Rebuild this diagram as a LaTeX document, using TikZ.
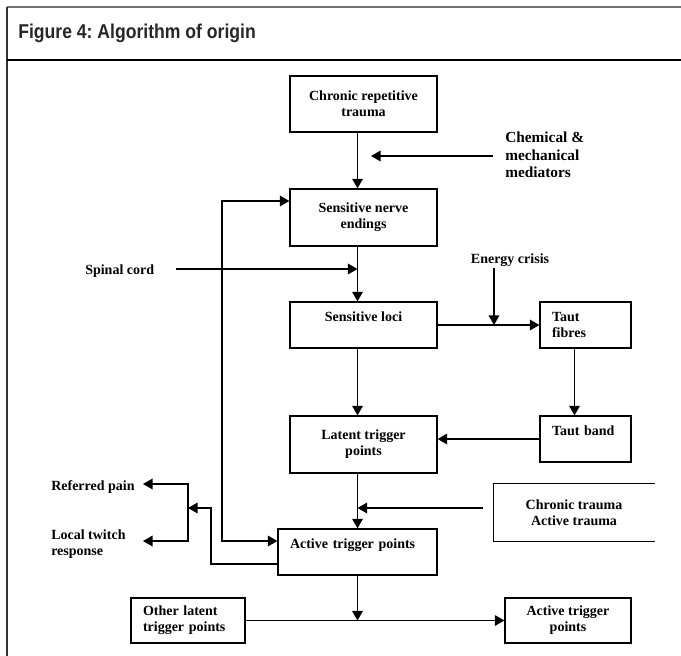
\documentclass[tikz,border=0pt]{standalone}
\usepackage{fontspec}
\setmainfont{Liberation Serif}
\newfontfamily\headfont[FakeStretch=0.88]{Liberation Sans}
\usetikzlibrary{arrows.meta,calc}
\frenchspacing
\tikzset{
  box/.style={draw, line width=0.9pt, inner sep=0pt, align=center, font=\bfseries\fontsize{10.5}{12}\selectfont},
  lbl/.style={inner sep=0pt, align=left, font=\bfseries\fontsize{10.5}{12}\selectfont},
  arr/.style={line width=1pt, -{Triangle[length=7.2pt,width=8pt]}},
  dblarr/.style={line width=1pt, {Triangle[length=7.2pt,width=8pt]}-{Triangle[length=7.2pt,width=8pt]}},
}
\begin{document}
\begin{tikzpicture}[x=0.75pt,y=-0.75pt]
\useasboundingbox (0,0) rectangle (681,656);
% frame and heading
\draw[line width=1.4pt, black!55] (681,7) -- (7,7);
\draw[line width=1.2pt, black!80] (7,7) -- (7,656);
\draw[line width=1.3pt] (7,60) -- (681,60);
\node[anchor=base west, inner sep=0pt, text=black!85, font=\headfont\bfseries\fontsize{15}{18}\selectfont] (title) at (18,39) {Figure 4: Algorithm of origin};
% boxes
\node[box, minimum width=110.25pt, minimum height=42pt] (crt) at (363.5,104) {Chronic repetitive\\trauma};
\node[box, minimum width=110.25pt, minimum height=42.75pt] (sne) at (363.5,217.5) {Sensitive nerve\\endings};
\node[box, minimum width=110.25pt, minimum height=34.5pt] (sl) at (363.5,325) {Sensitive loci\\~};
\node[box, minimum width=68.25pt, minimum height=34.5pt, text width=50.25pt, align=left] (tf) at (585.5,325) {Taut\\fibres};
\node[box, minimum width=110.25pt, minimum height=42.75pt] (ltp) at (363.5,444.5) {Latent trigger\\points};
\node[box, minimum width=68.25pt, minimum height=34.5pt, text width=50.25pt, align=left] (tb) at (585.5,439) {Taut band\\~};
\node[box, minimum width=119.25pt, minimum height=34.5pt, text width=101.25pt, align=left] (atp) at (357.5,552) {Active trigger points\\~};
\node[box, draw=none, minimum width=120pt, minimum height=42.75pt] (ct) at (574,512.5) {Chronic trauma\\Active trauma};
\draw[line width=0.9pt] (ct.north east) -- (ct.north west) -- (ct.south west) -- (ct.south east);
\node[box, minimum width=85.5pt, minimum height=33.75pt, text width=67.5pt, align=left] (olt) at (188,620.5) {Other latent\\trigger points};
\node[box, minimum width=94.5pt, minimum height=33.75pt] (atpb) at (568,620.5) {Active trigger\\points};
% free labels
\node[lbl, anchor=west, font=\bfseries\fontsize{11.5}{13}\selectfont] (chem) at (505,155) {Chemical \&\\mechanical\\mediators};
\node[lbl, anchor=west] (spinal) at (85,271) {Spinal cord};
\node[lbl] (energy) at (510,260) {Energy crisis};
\node[lbl, anchor=west] (referred) at (51,487) {Referred pain};
\node[lbl, anchor=west] (twitch) at (51,544.5) {Local twitch\\response};
% loose ends
\coordinate (chemtail) at (493,156);
\coordinate (chemtip) at (371,156);
\coordinate (spinaltail) at (176,269);
\coordinate (ectail) at (494,268);
\coordinate (cttail) at (483,508);
\coordinate (fbtop) at (222,201);
\coordinate (fbbot) at (222,541);
\coordinate (brk) at (188,508);
\coordinate (reftip) at (143,484);
\coordinate (twtip) at (143,541);
% connectors
\draw[arr](crt.south -| atp) -- (sne.north -| atp);
\draw[arr](chemtail) -- (chemtip);
\draw[arr](sne.south -| atp) -- (sl.north -| atp);
\draw[arr](spinaltail) -- (spinaltail -| atp);
\draw[arr](sl.east) -- (tf.west);
\draw[arr](ectail) -- (ectail |- sl.east);
\draw[arr](sl.south -| atp) -- (ltp.north -| atp);
\draw[arr]($(tf.south)+(-11,0)$) -- ($(tb.north)+(-11,0)$);
\draw[arr](tb.west) -- (tb.west -| ltp.east);
\draw[arr](ltp.south -| atp) -- (atp.north);
\draw[arr](cttail) -- (cttail -| atp);
\draw[dblarr](fbtop -| sne.west) -- (fbtop) -- (fbbot) -- (fbbot -| atp.west);
\draw[arr]($(atp.west)+(0,12)$) -| ($(brk)+(23,0)$) -- (brk);
\draw[dblarr](reftip) -- (reftip -| brk) -- (twtip -| brk) -- (twtip);
\draw[arr](atp.south) -- (atp.south |- olt.east);
\draw[arr](olt.east) -- (atpb.west);
\end{tikzpicture}
\end{document}
